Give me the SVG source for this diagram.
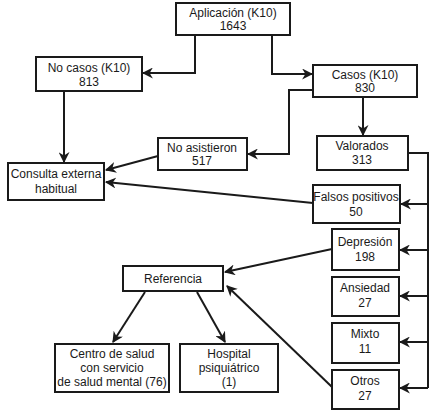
<svg xmlns="http://www.w3.org/2000/svg" width="435" height="413" viewBox="0 0 435 413">
<style>
.box{fill:#fff;stroke:#1a1a1a;stroke-width:2}
.t{font-family:"Liberation Sans",Arial,sans-serif;font-size:12px;fill:#1a1a1a;text-anchor:middle}
.c{fill:none;stroke:#1a1a1a;stroke-width:2;marker-end:url(#ah)}
.l{fill:none;stroke:#1a1a1a;stroke-width:2}
</style>
<defs>
<marker id="ah" viewBox="0 0 10 10" refX="9" refY="5" markerWidth="5.5" markerHeight="5.5" orient="auto" markerUnits="strokeWidth">
<path d="M0,0 L10,5 L0,10 L3,5 Z" fill="#1a1a1a"/>
</marker>
</defs>
<rect width="435" height="413" fill="#fff"/>
<g id="connectors">
<path class="c" d="M195,35 V73 H143"/>
<path class="c" d="M272,35 V74 H312"/>
<path class="c" d="M313,90 H289 V154 H248"/>
<path class="c" d="M363,97 V135"/>
<path class="c" d="M64,91 V162"/>
<path class="c" d="M158,156 L106,170"/>
<path class="c" d="M313,203 L106,182"/>
<path class="l" d="M408,153 H428 V388"/>
<path class="c" d="M428,204 H401"/>
<path class="c" d="M428,250 H400"/>
<path class="c" d="M428,296 H400"/>
<path class="c" d="M428,342 H400"/>
<path class="c" d="M428,388 H400"/>
<path class="c" d="M332,249 L225,272"/>
<path class="c" d="M332,387 L227,286"/>
<path class="c" d="M145,292 L113,342"/>
<path class="c" d="M197,292 L225,342"/>
</g>
<g id="aplicacion"><rect class="box" x="176" y="3" width="114" height="32"/><text class="t" x="233" y="17">Aplicación (K10)</text><text class="t" x="233" y="30">1643</text></g>
<g id="nocasos"><rect class="box" x="36" y="57" width="106" height="34"/><text class="t" x="89" y="72">No casos (K10)</text><text class="t" x="89" y="86">813</text></g>
<g id="casos"><rect class="box" x="313" y="65" width="104" height="32"/><text class="t" x="365" y="79">Casos (K10)</text><text class="t" x="365" y="92">830</text></g>
<g id="noasistieron"><rect class="box" x="158" y="138" width="89" height="32"/><text class="t" x="202" y="152">No asistieron</text><text class="t" x="202" y="165">517</text></g>
<g id="valorados"><rect class="box" x="317" y="136" width="91" height="34"/><text class="t" x="362" y="150">Valorados</text><text class="t" x="362" y="164">313</text></g>
<g id="consulta"><rect class="box" x="8" y="163" width="96" height="37"/><text class="t" x="56" y="178">Consulta externa</text><text class="t" x="56" y="193">habitual</text></g>
<g id="falsos"><rect class="box" x="313" y="185" width="87" height="38"/><text class="t" x="356" y="201">Falsos positivos</text><text class="t" x="356" y="216">50</text></g>
<g id="depresion"><rect class="box" x="332" y="229" width="67" height="41"/><text class="t" x="365" y="246">Depresión</text><text class="t" x="365" y="261">198</text></g>
<g id="ansiedad"><rect class="box" x="332" y="277" width="67" height="39"/><text class="t" x="365" y="292">Ansiedad</text><text class="t" x="365" y="307">27</text></g>
<g id="mixto"><rect class="box" x="332" y="323" width="67" height="40"/><text class="t" x="365" y="338">Mixto</text><text class="t" x="365" y="353">11</text></g>
<g id="otros"><rect class="box" x="332" y="370" width="67" height="39"/><text class="t" x="365" y="385">Otros</text><text class="t" x="365" y="400">27</text></g>
<g id="referencia"><rect class="box" x="123" y="266" width="100" height="25"/><text class="t" x="173" y="283">Referencia</text></g>
<g id="centro"><rect class="box" x="55" y="344" width="114" height="48"/><text class="t" x="112" y="358">Centro de salud</text><text class="t" x="112" y="372">con servicio</text><text class="t" x="112" y="386">de salud mental (76)</text></g>
<g id="hospital"><rect class="box" x="180" y="344" width="98" height="48"/><text class="t" x="229" y="358">Hospital</text><text class="t" x="229" y="372">psiquiátrico</text><text class="t" x="229" y="386">(1)</text></g>
</svg>
